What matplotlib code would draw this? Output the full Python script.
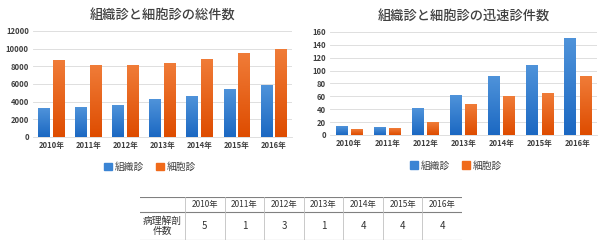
import numpy as np
import matplotlib
matplotlib.use("Agg")
import matplotlib.pyplot as plt
from matplotlib.colors import LinearSegmentedColormap
from matplotlib.patches import Patch

plt.rcParams['font.family'] = ['Noto Sans CJK JP', 'DejaVu Sans']

years = ["2010年", "2011年", "2012年", "2013年", "2014年", "2015年", "2016年"]
series_names = ["組織診", "細胞診"]

# 総件数
total_soshiki = [3250, 3320, 3600, 4250, 4600, 5320, 5810]
total_saibo = [8600, 8040, 8040, 8340, 8750, 9400, 9850]

# 迅速診件数
rapid_soshiki = [13, 12, 41, 61, 91, 108, 150]
rapid_saibo = [9, 10, 20, 47, 59, 64, 91]

# 病理解剖件数
autopsy = [5, 1, 3, 1, 4, 4, 4]

blue_cmap = LinearSegmentedColormap.from_list("b", ["#1b68c2", "#4f93da"])
orange_cmap = LinearSegmentedColormap.from_list("o", ["#de4c00", "#f07c38"])
txt = "#404040"


def grad_bars(ax, xs, vals, width, cmap):
    grad = np.linspace(0, 1, 128).reshape(-1, 1)
    for x, v in zip(xs, vals):
        ax.imshow(grad, extent=[x - width / 2, x + width / 2, 0, v],
                  aspect='auto', cmap=cmap, origin='lower', zorder=3)


def draw_chart(ax, a, b, ymax, step, title):
    x = np.arange(len(years))
    w = 0.31
    grad_bars(ax, x - 0.2, a, w, blue_cmap)
    grad_bars(ax, x + 0.2, b, w, orange_cmap)
    ax.set_xlim(-0.5, len(years) - 0.5)
    ax.set_ylim(0, ymax)
    ax.set_yticks(np.arange(0, ymax + 1, step))
    ax.set_xticks(x)
    ax.set_xticklabels(years)
    ax.tick_params(length=0, labelsize=5.5, colors=txt, pad=3)
    for lab in ax.get_xticklabels() + ax.get_yticklabels():
        lab.set_fontweight('bold')
    ax.grid(axis='y', color='#d9d9d9', linewidth=0.6, zorder=0)
    for s in ['top', 'right', 'left']:
        ax.spines[s].set_visible(False)
    ax.spines['bottom'].set_color('#d9d9d9')
    ax.spines['bottom'].set_linewidth(0.6)
    ax.set_title(title, fontsize=9.5, color=txt, pad=9, fontweight='medium')


fig = plt.figure(figsize=(6.0, 2.49), dpi=100)

ax1 = fig.add_axes([0.055, 0.45, 0.432, 0.426])
draw_chart(ax1, total_soshiki, total_saibo, 12000, 2000, "組織診と細胞診の総件数")

ax2 = fig.add_axes([0.55, 0.458, 0.445, 0.414])
draw_chart(ax2, rapid_soshiki, rapid_saibo, 160, 20, "組織診と細胞診の迅速診件数")

handles = [Patch(color="#3a84d4"), Patch(color="#f06a1a")]
for cx, cy in [(0.25, 0.33), (0.76, 0.335)]:
    fig.legend(handles, series_names, loc='center', bbox_to_anchor=(cx, cy),
               ncol=2, frameon=False, fontsize=7, handlelength=0.8,
               handleheight=0.8, handletextpad=0.3, columnspacing=1.2,
               labelcolor=txt)

# table
axt = fig.add_axes([140 / 600, (249 - 240) / 249, 322 / 600, 43 / 249])
axt.set_xlim(0, 322)
axt.set_ylim(43, 0)
axt.axis('off')
col0 = 45
cw = (322 - col0) / len(years)
for y in [0, 15, 43]:
    axt.plot([0, 322], [y, y], color='#808080', linewidth=0.8)
for i in range(len(years)):
    xv = col0 + i * cw
    axt.plot([xv, xv], [0, 43], color='#c0c0c0', linewidth=0.6)
for i, (yr, n) in enumerate(zip(years, autopsy)):
    xc = col0 + (i + 0.5) * cw
    axt.text(xc, 7.5, yr, ha='center', va='center', fontsize=6, color='#333333')
    axt.text(xc, 29, str(n), ha='center', va='center', fontsize=7, color='#333333')
axt.text(col0 / 2, 29, "病理解剖\n件数", ha='center', va='center', fontsize=7,
         color='#333333', linespacing=1.0)

fig.savefig("out.png", dpi=100, facecolor='white')
